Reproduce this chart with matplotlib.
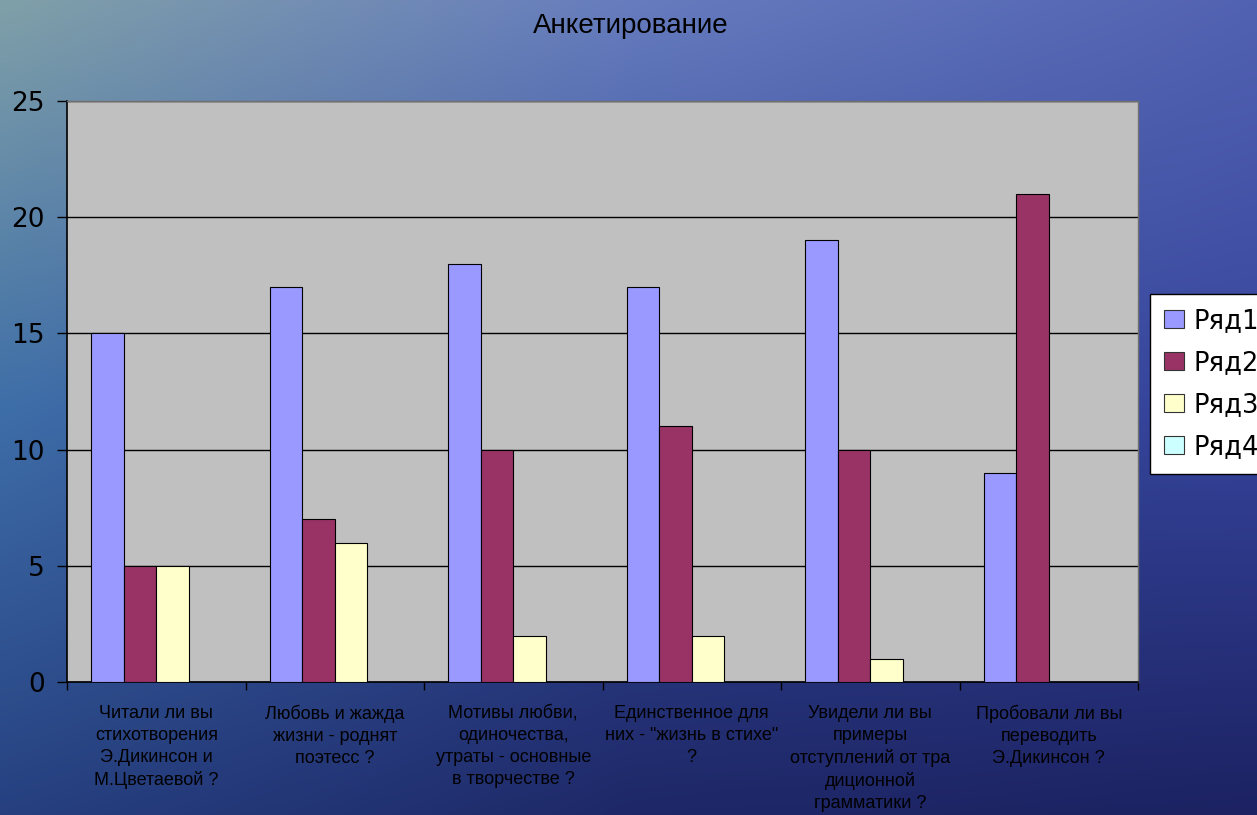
import numpy as np
import matplotlib
matplotlib.use("Agg")
import matplotlib.pyplot as plt
from matplotlib.patches import Patch

categories = [
    "Читали ли вы\nстихотворения\nЭ.Дикинсон и\nМ.Цветаевой ?",
    "Любовь и жажда\nжизни - роднят\nпоэтесс ?",
    "Мотивы любви,\nодиночества,\nутраты - основные\nв творчестве ?",
    "Единственное для\nних - \"жизнь в стихе\"\n?",
    "Увидели ли вы\nпримеры\nотступлений от тра\nдиционной\nграмматики ?",
    "Пробовали ли вы\nпереводить\nЭ.Дикинсон ?",
]
series_names = ["Ряд1", "Ряд2", "Ряд3", "Ряд4"]
ryad1 = [15, 17, 18, 17, 19, 9]
ryad2 = [5, 7, 10, 11, 10, 21]
ryad3 = [5, 6, 2, 2, 1, 0]
ryad4 = [0, 0, 0, 0, 0, 0]
series_values = [ryad1, ryad2, ryad3, ryad4]
colors = ["#9999FF", "#993366", "#FFFFCC", "#CCFFFF"]
yticks = [0, 5, 10, 15, 20, 25]

W, H = 1257, 815
fig = plt.figure(figsize=(W / 100, H / 100), dpi=100)

# background gradient (sea-like)
grid = np.array([
    [[0x80, 0xA0, 0xA8], [0x66, 0x7C, 0xBE], [0x52, 0x62, 0xB2]],
    [[0x3E, 0x6E, 0xA8], [0x34, 0x4A, 0x98], [0x36, 0x44, 0x9C]],
    [[0x26, 0x40, 0x80], [0x1E, 0x28, 0x68], [0x1C, 0x22, 0x62]],
], dtype=float) / 255.0
ny, nx = 200, 300
yy = np.linspace(0, 2, ny)
xx = np.linspace(0, 2, nx)
img = np.zeros((ny, nx, 3))
for i, y in enumerate(yy):
    y0 = min(int(y), 1); fy = y - y0
    for j, x in enumerate(xx):
        x0 = min(int(x), 1); fx = x - x0
        c = (grid[y0, x0] * (1 - fx) * (1 - fy) + grid[y0, x0 + 1] * fx * (1 - fy)
             + grid[y0 + 1, x0] * (1 - fx) * fy + grid[y0 + 1, x0 + 1] * fx * fy)
        img[i, j] = c
bg = fig.add_axes([0, 0, 1, 1], zorder=-10)
bg.imshow(img, aspect="auto", extent=[0, 1, 0, 1], interpolation="bicubic")
bg.axis("off")

ax = fig.add_axes([67 / W, 1 - 682 / H, (1138 - 67) / W, (682 - 101) / H])
ax.set_facecolor("#C0C0C0")

n = len(categories)
w = 1 / 5.5
x = np.arange(n)
for k, (vals, name, col) in enumerate(zip(series_values, series_names, colors)):
    bars = ax.bar(x + 0.75 * w + k * w, vals, width=w, align="edge", color=col,
                  edgecolor="black", linewidth=0.8, zorder=3)
    for b, v in zip(bars, vals):
        if v == 0:
            b.set_visible(False)

ax.set_xlim(0, n)
ax.set_ylim(0, 25)
ax.set_yticks(yticks)
ax.set_yticklabels([str(t) for t in yticks], fontsize=19, family="DejaVu Sans")
ax.yaxis.grid(True, color="black", linewidth=1.0, zorder=1)
ax.set_axisbelow(True)

ax.set_xticks(np.arange(n + 1))
ax.set_xticklabels([])
ax.set_xticks(x + 0.5, minor=True)
ax.set_xticklabels(categories, minor=True, fontsize=13,
                   family=["Liberation Sans", "DejaVu Sans"],
                   linespacing=1.38, va="top", ha="center")
ax.tick_params(axis="x", which="minor", length=0, pad=16.5)
ax.tick_params(axis="x", which="major", length=6, width=1, color="black", direction="out")
ax.tick_params(axis="y", length=7.2, width=1, color="black", direction="out", pad=8.6)

for s in ["left", "bottom"]:
    ax.spines[s].set_color("black")
    ax.spines[s].set_linewidth(1.2)
for s in ["top", "right"]:
    ax.spines[s].set_color("#707070")
    ax.spines[s].set_linewidth(1.0)

fig.text(631 / W, 1 - 33 / H, "Анкетирование", ha="center", va="baseline",
         fontsize=20, family=["Liberation Sans", "DejaVu Sans"])

handles = [Patch(facecolor=c, edgecolor="#333333", linewidth=0.8, label=nm)
           for c, nm in zip(colors, series_names)]
leg = fig.legend(handles=handles, loc="upper left",
                 bbox_to_anchor=(1150 / W, 1 - 294 / H),
                 bbox_transform=fig.transFigure, fontsize=18.5, frameon=True,
                 fancybox=False, edgecolor="black", framealpha=1,
                 handlelength=0.76, handleheight=0.74, handletextpad=0.4,
                 borderpad=0.55, labelspacing=0.62, borderaxespad=0)
leg.get_frame().set_linewidth(1.0)

fig.savefig("out.png", dpi=100)
